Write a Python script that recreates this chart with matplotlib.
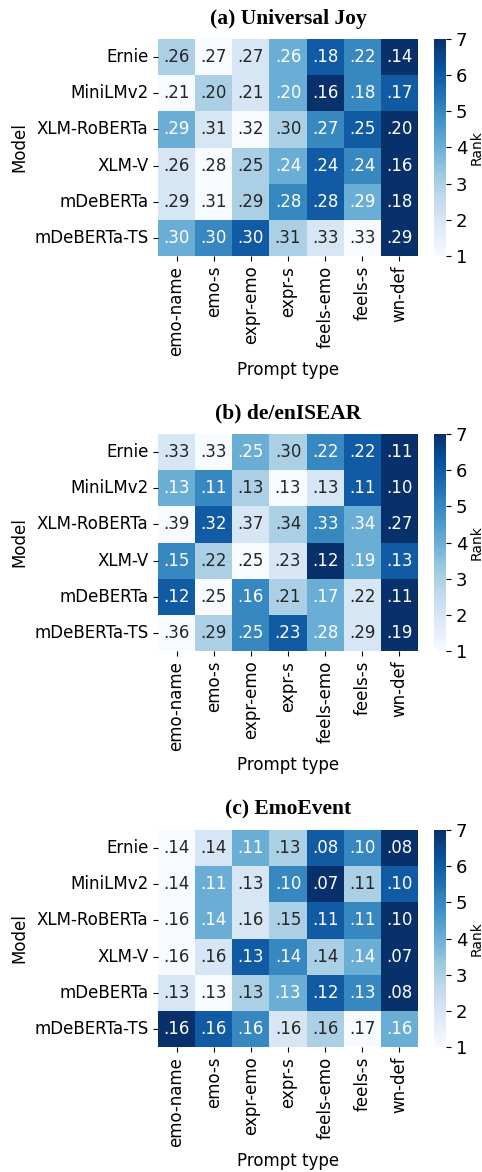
import numpy as np
import matplotlib
matplotlib.use("Agg")
import matplotlib.pyplot as plt
import seaborn as sns

plt.rcParams['font.family'] = ['DejaVu Sans']

models = ["Ernie", "MiniLMv2", "XLM-RoBERTa", "XLM-V", "mDeBERTa", "mDeBERTa-TS"]
prompts = ["emo-name", "emo-s", "expr-emo", "expr-s", "feels-emo", "feels-s", "wn-def"]

# F1 scores shown in the cells
ujoy_f1 = [[.26, .27, .27, .26, .18, .22, .14],
           [.21, .20, .21, .20, .16, .18, .17],
           [.29, .31, .32, .30, .27, .25, .20],
           [.26, .28, .25, .24, .24, .24, .16],
           [.29, .31, .29, .28, .28, .29, .18],
           [.30, .30, .30, .31, .33, .33, .29]]
isear_f1 = [[.33, .33, .25, .30, .22, .22, .11],
            [.13, .11, .13, .13, .13, .11, .10],
            [.39, .32, .37, .34, .33, .34, .27],
            [.15, .22, .25, .23, .12, .19, .13],
            [.12, .25, .16, .21, .17, .22, .11],
            [.36, .29, .25, .23, .28, .29, .19]]
emoevent_f1 = [[.14, .14, .11, .13, .08, .10, .08],
               [.14, .11, .13, .10, .07, .11, .10],
               [.16, .14, .16, .15, .11, .11, .10],
               [.16, .16, .13, .14, .14, .14, .07],
               [.13, .13, .13, .13, .12, .13, .08],
               [.16, .16, .16, .16, .16, .17, .16]]

# rank of each prompt within a model (cell colour)
ujoy_rank = [[3, 1, 2, 4, 6, 5, 7],
             [1, 3, 2, 4, 7, 5, 6],
             [4, 2, 1, 3, 5, 6, 7],
             [2, 1, 3, 4, 6, 5, 7],
             [2, 1, 3, 5, 6, 4, 7],
             [4, 5, 6, 3, 2, 1, 7]]
isear_rank = [[2, 1, 4, 3, 5, 6, 7],
              [4, 5, 3, 1, 2, 6, 7],
              [1, 6, 2, 3, 5, 4, 7],
              [5, 3, 1, 2, 7, 4, 6],
              [6, 1, 5, 3, 4, 2, 7],
              [1, 3, 5, 6, 4, 2, 7]]
emoevent_rank = [[1, 2, 4, 3, 6, 5, 7],
                 [1, 4, 2, 5, 7, 3, 6],
                 [1, 4, 2, 3, 6, 5, 7],
                 [1, 2, 6, 5, 3, 4, 7],
                 [2, 1, 3, 4, 6, 5, 7],
                 [7, 6, 5, 2, 3, 1, 4]]

titles = ["(a) Universal Joy", "(b) de/enISEAR", "(c) EmoEvent"]
f1_sets = [ujoy_f1, isear_f1, emoevent_f1]
rank_sets = [ujoy_rank, isear_rank, emoevent_rank]

W, H = 482, 1172
fig = plt.figure(figsize=(W / 100, H / 100), dpi=100)

tops = [39, 434, 830]
hm_h = 217

def fmt(v):
    return "{:.2f}".format(v).lstrip("0")

for top, title, f1, rank in zip(tops, titles, f1_sets, rank_sets):
    ax = fig.add_axes([158 / W, 1 - (top + hm_h) / H, 260 / W, hm_h / H])
    cax = fig.add_axes([434 / W, 1 - (top + hm_h) / H, 12 / W, hm_h / H])
    labels = np.array([[fmt(v) for v in row] for row in f1])
    sns.heatmap(np.array(rank), ax=ax, cbar_ax=cax, cmap="Blues", vmin=1, vmax=7,
                annot=labels, fmt="", annot_kws={"size": 12},
                xticklabels=prompts, yticklabels=models,
                cbar_kws={"label": "Rank"})
    ax.tick_params(labelsize=12)
    ax.set_yticklabels(models, rotation=0)
    ax.set_xticklabels(prompts, rotation=90)
    ax.set_xlabel("Prompt type", fontsize=12)
    ax.set_ylabel("Model", fontsize=12)
    cax.tick_params(labelsize=13)
    cax.set_ylabel("Rank", fontsize=10, labelpad=2)
    ax.set_title(title, fontsize=15.5, fontweight="bold", family="Liberation Serif", pad=11)

fig.savefig("out.png", dpi=100)
